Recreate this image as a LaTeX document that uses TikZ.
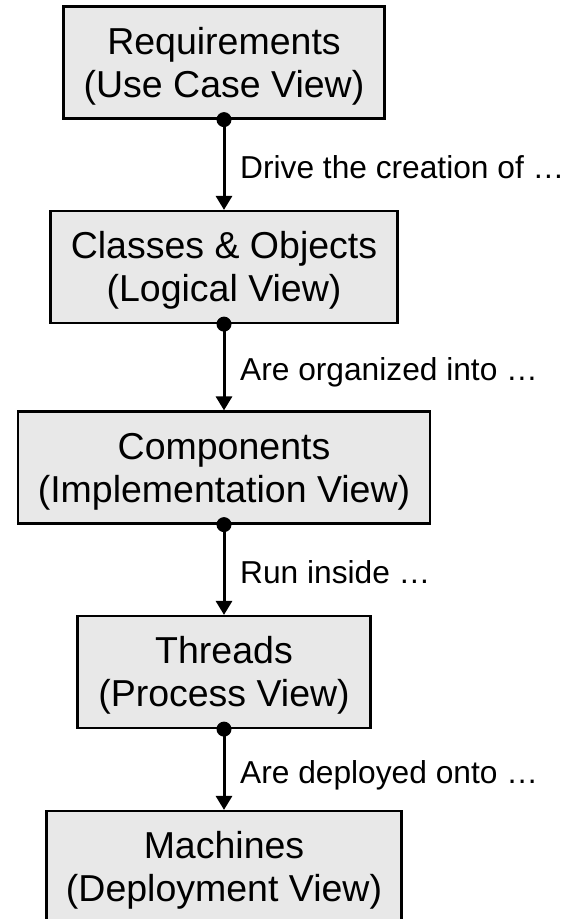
\documentclass[tikz,border=0pt]{standalone}
\usepackage{fontspec}
\setmainfont{Liberation Sans}
\usetikzlibrary{arrows.meta,calc}

\definecolor{boxfill}{RGB}{232,232,232}

\tikzset{
  viewbox/.style={draw=black, line width=2.2pt, fill=boxfill, rectangle,
    minimum height=112pt, inner sep=0pt, align=center,
    text height=90.5pt, text depth=21.5pt,
    font=\fontsize{37.5pt}{43pt}\selectfont},
  conn/.style={line width=3pt, -{Triangle[width=16pt,length=14pt]}},
  lbl/.style={anchor=base west, inner sep=0pt,
    font=\fontsize{31.7pt}{36pt}\selectfont},
}

\begin{document}
\begin{tikzpicture}[x=1pt,y=1pt]
  \useasboundingbox (0,0) rectangle (575,-919);

  % the five views, top to bottom
  \node[viewbox, minimum width=321pt] (req)  at (224,-62.5) {Requirements\\(Use Case View)};
  \node[viewbox, minimum width=347pt] (cls)  at (224,-267)  {Classes \& Objects\\(Logical View)};
  \node[viewbox, minimum width=412pt] (comp) at (224,-467.5) {Components\\(Implementation View)};
  \node[viewbox, minimum width=293pt] (thr)  at (224,-672)  {Threads\\(Process View)};
  \node[viewbox, minimum width=355pt] (mach) at (224,-867)  {Machines\\(Deployment View)};

  % connectors with a dot at the source and a filled head at the target
  \foreach \a/\b/\t in {req/cls/{Drive the creation of …},
                        cls/comp/{Are organized into …},
                        comp/thr/{Run inside …},
                        thr/mach/{Are deployed onto …}} {
    \draw[conn] (\a.south) -- (\b.north);
    \fill (\a.south) circle (7.5pt);
    \node[lbl] (lab-\a) at ($(\a.south)!0.5!(\b.north) + (16,-13.5)$) {\t};
  }
\end{tikzpicture}
\end{document}
